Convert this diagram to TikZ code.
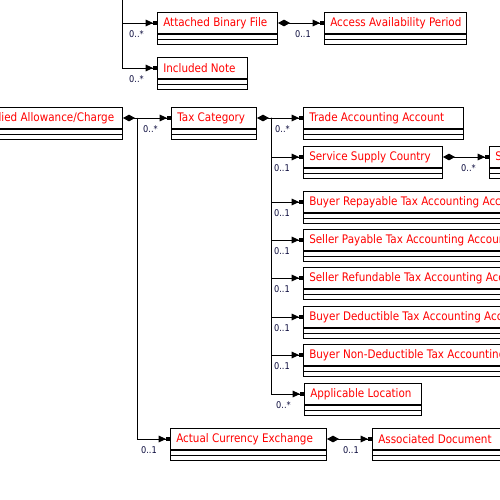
\documentclass[tikz,border=0pt]{standalone}
\usepackage{fontspec}
\usepackage{tikz}
\usetikzlibrary{arrows.meta}
\usetikzlibrary{calc}
\newfontfamily\umlfont[FakeStretch=0.88]{DejaVu Sans}

\definecolor{clsred}{RGB}{255,0,0}
\definecolor{multblue}{RGB}{10,10,60}

\tikzset{
  clsbox/.style={draw, line width=0.75pt, rectangle, inner sep=0pt, minimum height=15.75pt},
  clsname/.style={inner sep=0pt, font=\umlfont\fontsize{8.85pt}{10pt}\selectfont, text=clsred},
  mult/.style={inner sep=0pt, font=\umlfont\fontsize{7pt}{8pt}\selectfont, text=multblue},
  assoc/.style={line width=0.75pt, -{Triangle[length=5.5pt,width=5pt]Rectangle[length=3pt,width=2.6pt]}},
  comp/.style={line width=0.75pt, {Diamond[length=9pt,width=5pt]}-{Triangle[length=5.5pt,width=5pt]Rectangle[length=3pt,width=2.6pt]}}
}

% class box: name, x, y, width (px), text
\newcommand{\clsbox}[5]{%
  \node[clsbox, minimum width=#4*0.75pt, anchor=north west] (#1) at (#2,#3) {};
  \node[clsname, anchor=west] (#1-t) at ($(#1.west)+(6,0)$) {#5};
  \draw[line width=0.75pt] (#1.south west) rectangle ++(#4,5);
  \draw[line width=0.75pt] (#1.south west) ++(0,5) rectangle ++(#4,5);
}

\begin{document}
\begin{tikzpicture}[x=0.75pt,y=0.75pt,yscale=-1,xscale=1]
	\useasboundingbox (0,0) rectangle (500,500);
	\clip (0,0) rectangle (500,500);

	% Classes
	\clsbox{abf}{157}{12}{120}{Attached Binary File}
	\clsbox{aap}{324}{12}{142}{Access Availability Period}
	\clsbox{note}{157}{57}{90}{Included Note}
	\clsbox{allow}{-28}{107}{150}{Applied Allowance/Charge}
	\clsbox{taxcat}{171}{107}{85}{Tax Category}
	\clsbox{trade}{303}{107}{160}{Trade Accounting Account}
	\clsbox{ssc}{303}{146}{139}{Service Supply Country}
	\clsbox{subdiv}{489}{146}{220}{Subordinate Trade Country Sub-Division}
	\clsbox{brt}{303}{191}{250}{Buyer Repayable Tax Accounting Account}
	\clsbox{spt}{303}{229}{250}{Seller Payable Tax Accounting Account}
	\clsbox{srt}{303}{267}{250}{Seller Refundable Tax Accounting Account}
	\clsbox{bdt}{303}{306}{250}{Buyer Deductible Tax Accounting Account}
	\clsbox{bnd}{303}{344}{270}{Buyer Non-Deductible Tax Accounting Account}
	\clsbox{loc}{304}{383}{117}{Applicable Location}
	\clsbox{ace}{170}{428}{156}{Actual Currency Exchange}
	\clsbox{adoc}{372}{428}{200}{Associated Document}

	% Junctions
	\coordinate (top) at (122,-5);
	\coordinate (allowj) at (137,117.5);
	\coordinate (taxj) at (271,117.5);

	% Connectors
	\draw[assoc] (top) |- (abf.west);
	\draw[assoc] (top) |- (note.west);
	\draw[comp] (abf.east) -- (aap.west);
	\draw[comp] (allow.east) -- (taxcat.west);
	\draw[assoc] (allowj) |- (ace.west);
	\draw[comp] (ace.east) -- (adoc.west);
	\draw[comp] (taxcat.east) -- (trade.west);
	\draw[comp] (ssc.east) -- (subdiv.west);
	\foreach \c in {ssc,brt,spt,srt,bdt,bnd,loc}
	  \draw[assoc] (taxj) |- (\c.west);

	% Multiplicities
	\foreach \c/\m in {abf/0..*, note/0..*, aap/0..1, taxcat/0..*, ace/0..1, adoc/0..1, trade/0..*, subdiv/0..*, ssc/0..1, brt/0..1, spt/0..1, srt/0..1, bdt/0..1, bnd/0..1, loc/0..*}
	  \node[mult, anchor=base east] (m-\c) at ($(\c.west)+(-13,14)$) {\m};

\end{tikzpicture}
\end{document}
